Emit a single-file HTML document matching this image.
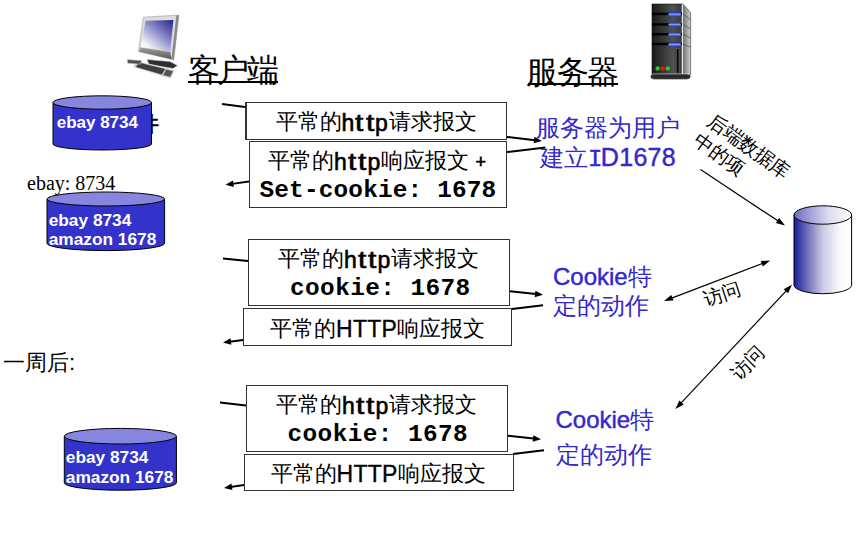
<!DOCTYPE html>
<html><head><meta charset="utf-8">
<style>
html,body{margin:0;padding:0;background:#fff;}
body{width:857px;height:534px;position:relative;overflow:hidden;font-family:"Liberation Sans",sans-serif;}
.a{position:absolute;white-space:nowrap;}
.box{position:absolute;border:1px solid #333;box-sizing:border-box;background:#fff;}
.cj{font-size:22px;line-height:24px;color:#000;font-weight:200;}
.mono{font-family:"Liberation Mono",monospace;font-weight:bold;font-size:24.4px;line-height:26px;}
.h{font-weight:normal;-webkit-text-stroke:0.6px #000;font-size:23px;position:relative;top:2.5px;}
.h i{font-style:normal;display:inline-block;width:10.4px;text-align:center;transform:scaleX(1.3);}
.h b{font-weight:normal;letter-spacing:0.9px;}
.H{font-size:23px;position:relative;top:1px;letter-spacing:0.3px;-webkit-text-stroke:0.35px #000;}
.blue{color:#3328cc;font-weight:300;}
.cs{-webkit-text-stroke:0.45px #3328cc;}
.ul{position:absolute;height:2px;background:#000;}
.wt{color:#fff;font-weight:bold;font-size:17.3px;line-height:20px;}
svg{position:absolute;left:0;top:0;}
.rot{position:absolute;white-space:nowrap;font-size:19.5px;line-height:24px;transform-origin:0 0;font-weight:200;}
</style></head><body>
<svg width="857" height="534" viewBox="0 0 857 534">
<defs>
<marker id="ar" markerWidth="9" markerHeight="8" refX="8.5" refY="4" orient="auto" markerUnits="userSpaceOnUse">
<path d="M0,0.4 L8.5,4 L0,7.6 z" fill="#000"/></marker>
<marker id="at" markerWidth="10" markerHeight="7" refX="9.5" refY="3.5" orient="auto" markerUnits="userSpaceOnUse">
<path d="M0,0.5 L9.5,3.5 L0,6.5 z" fill="#000"/></marker>
<marker id="ats" markerWidth="10" markerHeight="7" refX="0" refY="3.5" orient="auto" markerUnits="userSpaceOnUse">
<path d="M9.5,0.5 L0,3.5 L9.5,6.5 z" fill="#000"/></marker>
<linearGradient id="dbg" x1="0" x2="1" y1="0" y2="0">
<stop offset="0" stop-color="#1a1a9c"/><stop offset="0.2" stop-color="#6464b4"/><stop offset="0.5" stop-color="#cacae4"/><stop offset="0.8" stop-color="#fafafd"/><stop offset="1" stop-color="#ffffff"/></linearGradient>
<linearGradient id="dbt" x1="0" x2="1" y1="0" y2="0">
<stop offset="0" stop-color="#6c6cc4"/><stop offset="0.6" stop-color="#dcdcf0"/><stop offset="1" stop-color="#ffffff"/></linearGradient>
<linearGradient id="scr" x1="1" y1="0" x2="0.1" y2="1">
<stop offset="0" stop-color="#22228f"/><stop offset="0.45" stop-color="#8c8cc8"/><stop offset="0.85" stop-color="#f4f4fa"/><stop offset="1" stop-color="#ffffff"/></linearGradient>
<linearGradient id="srv" x1="0" x2="1"><stop offset="0" stop-color="#1a1a1a"/><stop offset="0.7" stop-color="#505050"/><stop offset="1" stop-color="#3a3a3a"/></linearGradient>
<linearGradient id="srvs" x1="0" x2="1"><stop offset="0" stop-color="#777"/><stop offset="1" stop-color="#d0d0d0"/></linearGradient>
<linearGradient id="led" x1="0" x2="0" y1="0" y2="1"><stop offset="0" stop-color="#1030e8"/><stop offset="0.45" stop-color="#7fa0ff"/><stop offset="1" stop-color="#1838f0"/></linearGradient>
</defs>

<!--LINES-->
<g>
<line x1="222" y1="104" x2="245" y2="107" stroke="#000" stroke-width="2"/>
<line x1="249.00" y1="181.50" x2="230.25" y2="184.13" stroke="#000" stroke-width="2"/>
<path d="M225.50,184.80 L232.96,180.42 L233.88,186.96 Z" fill="#000"/>
<line x1="507.00" y1="137.00" x2="537.23" y2="140.45" stroke="#000" stroke-width="2"/>
<path d="M542.00,141.00 L533.68,143.37 L534.43,136.81 Z" fill="#000"/>
<line x1="507" y1="152" x2="545.5" y2="147.5" stroke="#000" stroke-width="2"/>
<line x1="223" y1="258.6" x2="248" y2="261" stroke="#000" stroke-width="2"/>
<line x1="243.00" y1="340.00" x2="227.76" y2="341.90" stroke="#000" stroke-width="2"/>
<path d="M223.00,342.50 L230.53,338.23 L231.35,344.78 Z" fill="#000"/>
<line x1="510.00" y1="291.30" x2="538.23" y2="294.29" stroke="#000" stroke-width="2"/>
<path d="M543.00,294.80 L534.70,297.24 L535.39,290.67 Z" fill="#000"/>
<line x1="512" y1="309" x2="543" y2="305.3" stroke="#000" stroke-width="2"/>
<line x1="220" y1="402.6" x2="246" y2="405.4" stroke="#000" stroke-width="2"/>
<line x1="244.00" y1="485.00" x2="228.75" y2="487.29" stroke="#000" stroke-width="2"/>
<path d="M224.00,488.00 L231.42,483.55 L232.40,490.08 Z" fill="#000"/>
<line x1="508.00" y1="435.80" x2="536.23" y2="438.79" stroke="#000" stroke-width="2"/>
<path d="M541.00,439.30 L532.70,441.74 L533.39,435.17 Z" fill="#000"/>
<line x1="513" y1="454" x2="544" y2="450.3" stroke="#000" stroke-width="2"/>
<line x1="700.50" y1="169.50" x2="780.50" y2="222.61" stroke="#000" stroke-width="1.2"/>
<path d="M785.00,225.60 L775.84,223.12 L779.16,218.12 Z" fill="#000"/>
<line x1="669.05" y1="299.08" x2="765.15" y2="262.52" stroke="#000" stroke-width="1.2"/>
<path d="M770.20,260.60 L762.85,266.60 L760.72,261.00 Z" fill="#000"/>
<path d="M664.00,301.00 L673.48,300.60 L671.35,295.00 Z" fill="#000"/>
<line x1="679.09" y1="405.06" x2="788.31" y2="288.64" stroke="#000" stroke-width="1.2"/>
<path d="M792.00,284.70 L788.03,293.32 L783.65,289.21 Z" fill="#000"/>
<path d="M675.40,409.00 L683.75,404.49 L679.37,400.38 Z" fill="#000"/>
</g>
<!--/LINES-->

<!-- database cylinder right -->
<path d="M794,215 L794,285.5 A28.9,9 0 0 0 851.6,285.5 L851.6,215 Z" fill="url(#dbg)" stroke="#000" stroke-width="1"/>
<ellipse cx="822.8" cy="215" rx="28.8" ry="9.2" fill="url(#dbt)" stroke="#000" stroke-width="1"/>
</svg>

<!-- partially hidden char behind cylinder 1 -->
<div class="a cj" style="left:138.3px;top:112px;font-weight:700;font-size:21px;">件</div>

<svg width="857" height="534" viewBox="0 0 857 534">
<!-- cylinder 1 -->
<path d="M53,102.5 L53,144 A49.25,6 0 0 0 151.5,144 L151.5,102.5 Z" fill="#3333cc" stroke="#000" stroke-width="1"/>
<ellipse cx="102.25" cy="102.5" rx="49.25" ry="6.7" fill="#8686df" stroke="#000" stroke-width="1"/>
<!-- cylinder 2 -->
<path d="M47,199 L47,243.3 A58.8,7.3 0 0 0 164.6,243.3 L164.6,199 Z" fill="#3333cc" stroke="#000" stroke-width="1"/>
<ellipse cx="105.8" cy="199" rx="58.8" ry="7" fill="#8686df" stroke="#000" stroke-width="1"/>
<!-- cylinder 3 -->
<path d="M64.3,436.2 L64.3,482.8 A56,7.4 0 0 0 176.4,482.8 L176.4,436.2 Z" fill="#3333cc" stroke="#000" stroke-width="1"/>
<ellipse cx="120.35" cy="436.2" rx="56.05" ry="7.8" fill="#8686df" stroke="#000" stroke-width="1"/>
</svg>

<!-- cylinder texts -->
<div class="a wt" style="left:56.7px;top:112.6px;font-size:17px;">ebay 8734</div>
<div class="a wt" style="left:48.7px;top:210.5px;line-height:19.6px;">ebay 8734<br>amazon 1678</div>
<div class="a wt" style="left:65.8px;top:446.5px;line-height:20.6px;">ebay 8734<br>amazon 1678</div>

<div class="a" style="left:27px;top:172.5px;font-family:'Liberation Serif',serif;font-size:20px;line-height:20px;">ebay: 8734</div>
<div class="a cj" style="left:3px;top:351px;">一周后:</div>

<!-- titles -->
<div class="a" style="left:187.5px;top:54.5px;font-size:31.5px;line-height:30px;letter-spacing:-2.1px;font-weight:200;">客户端</div>
<div class="ul" style="left:188px;top:81px;width:90px;"></div>
<div class="a" style="left:526.2px;top:57px;font-size:31.5px;line-height:30px;letter-spacing:-1.6px;font-weight:200;">服务器</div>
<div class="ul" style="left:528px;top:83px;width:90px;"></div>

<!-- boxes -->
<div class="box" style="left:245px;top:102px;width:262px;height:38px;border-left-width:2px;"></div>
<div class="box" style="left:249px;top:141px;width:258px;height:67px;"></div>
<div class="box" style="left:248px;top:239px;width:262px;height:67px;"></div>
<div class="box" style="left:243px;top:308px;width:269px;height:38px;"></div>
<div class="box" style="left:246px;top:385px;width:262px;height:67px;"></div>
<div class="box" style="left:244px;top:454px;width:270px;height:37px;"></div>

<div class="a cj" style="left:275.5px;top:108.7px;">平常的<span class="h">h<i>t</i><i>t</i><b>p</b></span>请求报文</div>
<div class="a cj" style="left:268px;top:147.7px;">平常的<span class="h">h<i>t</i><i>t</i><b>p</b></span>响应报文 <span class="h" style="font-size:18px;top:0.5px">+</span></div>
<div class="a mono" style="left:259.5px;top:178px;letter-spacing:0.17px;">Set-cookie: 1678</div>

<div class="a cj" style="left:278px;top:245.7px;">平常的<span class="h">h<i>t</i><i>t</i><b>p</b></span>请求报文</div>
<div class="a mono" style="left:290px;top:276px;letter-spacing:0.42px;">cookie: 1678</div>
<div class="a cj" style="left:270px;top:316.1px;">平常的<span class="H">HTTP</span>响应报文</div>

<div class="a cj" style="left:276px;top:391.7px;">平常的<span class="h">h<i>t</i><i>t</i><b>p</b></span>请求报文</div>
<div class="a mono" style="left:287.5px;top:422px;letter-spacing:0.42px;">cookie: 1678</div>
<div class="a cj" style="left:270.5px;top:460.7px;">平常的<span class="H">HTTP</span>响应报文</div>

<!-- blue texts -->
<div class="a blue" style="left:536px;top:113px;width:144px;font-size:24px;line-height:29.5px;text-align:center;">服务器为用户<br>建立<span class="cs" style="font-size:25px;letter-spacing:0.3px"><span style="font-family:'Liberation Mono',monospace;font-size:24px;letter-spacing:-1.5px">I</span>D1678</span></div>
<div class="a blue" style="left:553px;top:262px;font-size:24px;line-height:29px;"><span class="cs">Cookie</span>特<br>定的动作</div>
<div class="a blue" style="left:555.5px;top:402px;font-size:24px;line-height:35px;"><span class="cs">Cookie</span>特<br>定的动作</div>

<!-- rotated texts -->
<div class="rot" style="left:716.5px;top:108.5px;font-size:19.3px;transform:rotate(36deg);">后端数据库<br>中的项</div>
<div class="rot" style="left:699.8px;top:288.5px;font-size:19px;transform:rotate(-18deg);">访问</div>
<div class="rot" style="left:726.3px;top:368px;font-size:19px;transform:rotate(-45deg);">访问</div>

<!-- computer icon -->
<svg width="857" height="534" viewBox="0 0 857 534">
<defs><linearGradient id="chin" x1="0" x2="0" y1="0" y2="1"><stop offset="0" stop-color="#a0a0a0"/><stop offset="1" stop-color="#585858"/></linearGradient></defs>
<g>
<path d="M147,59.5 L170,61.5 L177.5,65.5 L173,68.5 L149,64.5 Z" fill="#2e2e2e" stroke="#c8c8c8" stroke-width="0.6"/>
<path d="M143.3,17.2 L178.9,15.1 L173.8,59.8 L138.5,51.6 Z" fill="#dcdcdc" stroke="#a8a8a8" stroke-width="0.7"/>
<path d="M176.3,15.6 L178.9,15.1 L173.8,59.8 L171.4,59.2 Z" fill="#8a8a8a"/>
<path d="M145.5,20.8 L173.4,20 L170.2,51.5 L140.8,47 Z" fill="url(#scr)"/>
<path d="M140.6,47.4 L170.3,51.9 L171.6,59.2 L138.7,51.6 Z" fill="url(#chin)"/>
<path d="M137,61 L174.5,70.3 L170.5,78.6 L133.5,67 Z" fill="#cacaca" stroke="#e4e4e4" stroke-width="0.6"/>
<path d="M138.6,62.4 L165.2,69 L161.8,74.6 L136,67 Z" fill="#3e3e3e"/>
<path d="M166.3,69.4 L173,71.2 L170,76.8 L163.2,75 Z" fill="#555"/>
<path d="M127.3,59.6 L141.6,60.6 L140.2,64.2 L127.6,63.2 Z" fill="#4c4c4c" stroke="#cfcfcf" stroke-width="0.6"/>
</g>
</svg>
<svg width="857" height="534" viewBox="0 0 857 534">
<!-- server icon -->
<g>
<path d="M683.5,4.7 L690.6,12.6 L690.6,75 L683.5,77 Z" fill="url(#srvs)" stroke="#333" stroke-width="0.6"/>
<rect x="652" y="4" width="30" height="72" fill="url(#srv)" stroke="#111" stroke-width="0.6"/>
<rect x="681.5" y="4" width="2" height="73" fill="#e8e8e8" stroke="#333" stroke-width="0.4"/>
<path d="M650.5,76.5 Q650.5,73.9 655,73.9 L686,73.9 Q690.6,73.9 690.6,76.5 Q690.6,79.4 686,79.4 L655,79.4 Q650.5,79.4 650.5,76.5 Z" fill="#2a2a2a" stroke="#ddd" stroke-width="0.6"/>
<g fill="#000"><rect x="652" y="12.6" width="30" height="2.6"/><rect x="652" y="23.2" width="30" height="2.4"/><rect x="652" y="33" width="30" height="2.4"/><rect x="652" y="42.8" width="30" height="2.4"/></g>
<g fill="url(#led)"><rect x="668.3" y="12.3" width="12.7" height="4" rx="2"/><rect x="668.3" y="22.8" width="12.7" height="3.6" rx="1.8"/><rect x="668.3" y="32.7" width="12.7" height="3.6" rx="1.8"/><rect x="668.3" y="42.5" width="12.7" height="4" rx="2"/></g>
<g stroke="#333" stroke-width="0.6"><line x1="683.5" y1="14" x2="690.6" y2="20"/><line x1="683.5" y1="24.5" x2="690.6" y2="29"/><line x1="683.5" y1="34.5" x2="690.6" y2="38"/><line x1="683.5" y1="44.5" x2="690.6" y2="47"/></g>
<rect x="676.2" y="48.7" width="2.8" height="24.4" fill="#0a0a0a" stroke="#777" stroke-width="0.5"/>
<circle cx="657.6" cy="68.4" r="2.2" fill="#22cc22"/><circle cx="662.6" cy="68.4" r="2.2" fill="#ee1111"/><circle cx="667.8" cy="68.4" r="2.2" fill="#22cc22"/>
</g>
</svg>
</body></html>
